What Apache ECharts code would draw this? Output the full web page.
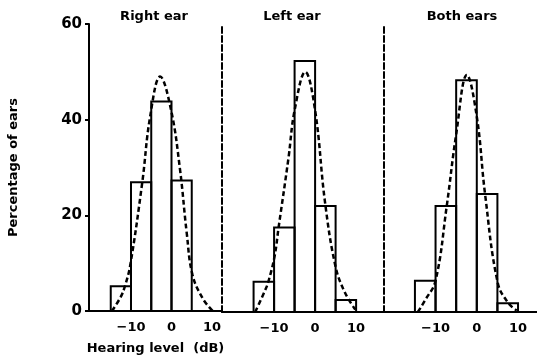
<!DOCTYPE html>
<html>
<head>
<meta charset="utf-8">
<script src="https://cdn.jsdelivr.net/npm/echarts@6/dist/echarts.min.js"></script>
<style>html,body{margin:0;padding:0;background:#fff}#c{width:537px;height:360px}</style>
</head>
<body>
<div id="c"></div>
<script>
// ---- data ----
const panelTitles = ['Right ear', 'Left ear', 'Both ears'];
const binStarts = [-15, -10, -5, 0, 5];
const binWidth = 5;
const rightEarValues = [5.2, 26.9, 43.8, 27.3];
const leftEarValues = [6.3, 17.6, 52.3, 22.1, 2.5];
const bothEarsValues = [6.5, 22.1, 48.3, 24.6, 1.8];
const rightEarCurve = [[-14.7,0],[-12.5,3],[-11.5,5.2],[-10.2,9.5],[-7.2,27],[-5.3,40.5],[-2.8,49],[-0.1,42],[2.1,29.6],[3.75,16.4],[5.2,7.5],[7.8,2.5],[10.2,0]];
const leftEarCurve = [[-14.6,0],[-12.2,4.5],[-11.4,6.3],[-9.9,11.5],[-8.9,17.6],[-6.5,32],[-5,42],[-2.4,50],[0,42],[2.4,23],[5,9.4],[7.3,4],[9.8,0.5]];
const bothEarsCurve = [[-14.3,0],[-12.5,2.5],[-10,6.5],[-7.3,22],[-5,37],[-2.4,49.4],[0,40.7],[2,24.6],[5.1,6],[7.7,1.8],[9.7,0.3]];
const xTickValues = [-10, 0, 10];
const yTickValues = [0, 20, 40, 60];
const xRanges = [[-20.37, 12.47], [-22.7, 16.8], [-22.5, 14.6]];

// ---- chart ----
const FONT = 'DejaVu Sans';
const valuesList = [rightEarValues, leftEarValues, bothEarsValues];
const curves = [rightEarCurve, leftEarCurve, bothEarsCurve];
const grids = [
  {left: 89, top: 24, width: 133, height: 288},
  {left: 222, top: 24, width: 162, height: 288},
  {left: 384, top: 24, width: 153, height: 288}
];
const titleX = [154, 292, 462];

const xAxes = grids.map((g, i) => ({
  gridIndex: i, type: 'value', min: xRanges[i][0], max: xRanges[i][1],
  axisLine: {show: true, onZero: false, lineStyle: {color: '#000', width: 2}},
  axisTick: {show: false}, splitLine: {show: false},
  axisLabel: {
    customValues: xTickValues, color: '#000', fontSize: 13, fontWeight: 'bold', fontFamily: FONT, margin: 10,
    formatter: v => (v < 0 ? '\u2212' + Math.abs(v) : String(v))
  },
  name: i === 0 ? 'Hearing level  (dB)' : '',
  nameLocation: 'middle', nameGap: 31,
  nameTextStyle: {color: '#000', fontSize: 13, fontWeight: 'bold', fontFamily: FONT}
}));

const yAxes = grids.map((g, i) => i === 0 ? {
  gridIndex: 0, type: 'value', min: yTickValues[0], max: yTickValues[yTickValues.length - 1], interval: 20,
  axisLine: {show: true, onZero: false, lineStyle: {color: '#000', width: 2}},
  axisTick: {show: true, length: 4, lineStyle: {color: '#000', width: 2}},
  axisLabel: {color: '#000', fontSize: 15, fontWeight: 'bold', fontFamily: FONT, margin: 7},
  splitLine: {show: false},
  name: 'Percentage of ears', nameLocation: 'middle', nameRotate: 90, nameGap: 69,
  nameTextStyle: {color: '#000', fontSize: 13, fontWeight: 'bold', fontFamily: FONT}
} : {
  gridIndex: i, type: 'value', min: 0, max: 60, interval: 20,
  axisLine: {show: true, onZero: false, lineStyle: {color: '#000', width: 2, type: [6, 3]}},
  axisTick: {show: false}, axisLabel: {show: false}, splitLine: {show: false}
});

const series = [];
valuesList.forEach((vals, i) => {
  series.push({
    type: 'custom', xAxisIndex: i, yAxisIndex: i,
    data: vals.map((v, k) => [binStarts[k], binStarts[k] + binWidth, v]),
    encode: {x: [0, 1], y: 2},
    renderItem: (params, api) => {
      const p0 = api.coord([api.value(0), api.value(2)]);
      const p1 = api.coord([api.value(1), 0]);
      return {type: 'rect', shape: {x: p0[0], y: p0[1], width: p1[0] - p0[0], height: p1[1] - p0[1]},
        style: {fill: 'none', stroke: '#000', lineWidth: 2}};
    },
    silent: true, z: 2
  });
  series.push({
    type: 'line', xAxisIndex: i, yAxisIndex: i, data: curves[i], smooth: 0.4,
    showSymbol: false, symbol: 'none',
    lineStyle: {color: '#000', width: 2.5, type: [5, 3]}, silent: true, z: 3
  });
});

const chart = echarts.init(document.getElementById('c'), null, {renderer: 'canvas'});
chart.setOption({
  animation: false,
  backgroundColor: '#fff',
  grid: grids,
  xAxis: xAxes,
  yAxis: yAxes,
  series: series,
  graphic: panelTitles.map((t, i) => ({
    type: 'text', x: titleX[i], y: 17,
    style: {text: t, textAlign: 'center', textVerticalAlign: 'middle', fill: '#000',
      font: 'bold 13px "' + FONT + '"'}
  }))
});
</script>
</body>
</html>
